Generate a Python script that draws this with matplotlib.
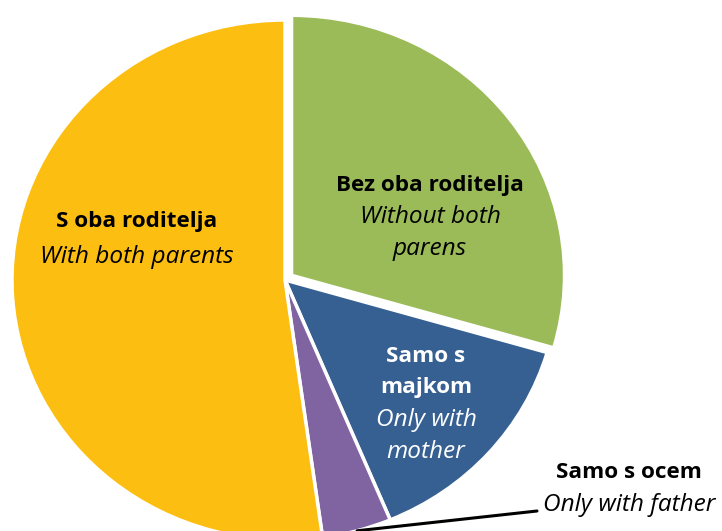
import numpy as np
import matplotlib
matplotlib.use('Agg')
import matplotlib.pyplot as plt

# udjeli (%) - redoslijed u smjeru kazaljke od vrha
categories = ['Bez oba roditelja', 'Samo s majkom', 'Samo s ocem', 'S oba roditelja']
shares = [29.5, 14.2, 4.1, 52.2]
colors = ['#9BBB59', '#376092', '#8064A2', '#FCBE10']
explode = [0.03, 0, 0, 0]

# tekstovi (hr / en)
labels_hr = [['Bez oba roditelja'], ['Samo s', 'majkom'], ['Samo s ocem'], ['S oba roditelja']]
labels_en = [['Without both', 'parens'], ['Only with', 'mother'], ['Only with father'], ['With both parents']]
label_pos = [(430, 186), (426, 356), (629, 472), (137, 222)]   # piksel, sredina prvog reda
label_lh = [31.5, 32, 33, 35]
label_col = ['black', 'white', 'black', 'black']

W, H = 722, 531
cx, cy, rx, ry = 285, 280, 273, 260   # sredina i poluosi pite u pikselima

plt.rcParams['font.family'] = ['Open Sans', 'DejaVu Sans']
fig = plt.figure(figsize=(W / 100, H / 100), dpi=100)
ax = fig.add_axes([0, 0, 1, 1])

wedges, _ = ax.pie(shares, colors=colors, explode=explode, startangle=90,
                   counterclock=False, radius=1,
                   wedgeprops=dict(edgecolor='white', linewidth=2.5))
ax.set_aspect('auto')
ax.set_xlim(-cx / rx, (W - cx) / rx)
ax.set_ylim(-(H - cy) / ry, cy / ry)

# natpisi
fs_b, fs_i = 16.2, 17.6
for hr, en, (x, y), lh, c in zip(labels_hr, labels_en, label_pos, label_lh, label_col):
    k = 0
    for t in hr:
        fig.text(x / W, 1 - (y + k * lh) / H, t, ha='center', va='center',
                 fontsize=fs_b, fontweight='bold', color=c)
        k += 1
    for t in en:
        fig.text(x / W, 1 - (y + k * lh) / H, t, ha='center', va='center',
                 fontsize=fs_i, fontstyle='italic', color=c)
        k += 1

# linija do natpisa "Samo s ocem"
w = wedges[2]
mid = np.deg2rad((w.theta1 + w.theta2) / 2)
ax.annotate('', xy=(np.cos(mid), np.sin(mid)), xycoords='data',
            xytext=(537, H - 511), textcoords='figure pixels',
            arrowprops=dict(arrowstyle='-', color='black', lw=2.2,
                            shrinkA=0, shrinkB=0))

fig.savefig('out.png', dpi=100)
